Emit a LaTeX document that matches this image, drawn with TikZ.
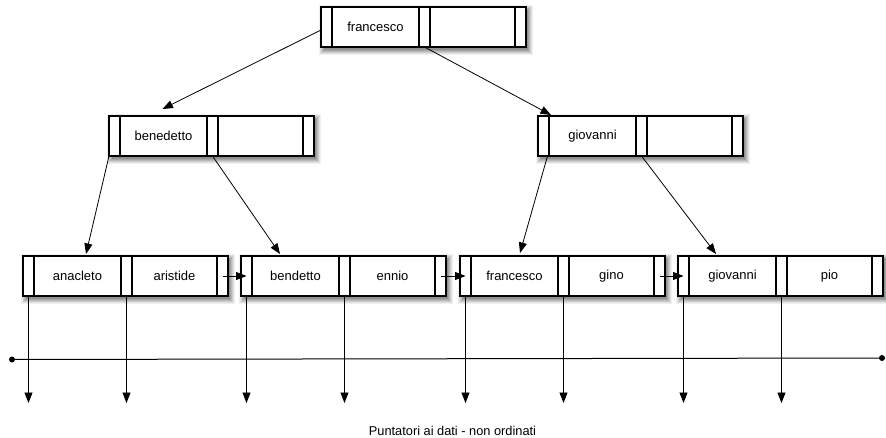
\documentclass[tikz,border=0pt]{standalone}
\usepackage{fontspec}
\setmainfont{Liberation Sans}
\usetikzlibrary{arrows.meta,calc}
\definecolor{shA}{RGB}{240,240,240}
\definecolor{shB}{RGB}{225,225,225}
\definecolor{shC}{RGB}{205,205,205}
\definecolor{shD}{RGB}{185,185,185}
\definecolor{shE}{RGB}{165,165,165}
\definecolor{shF}{RGB}{145,145,145}
\tikzset{
 cell/.style={draw, line width=1.1pt, minimum height=40pt, minimum width=#1, inner sep=0pt, outer sep=0pt, anchor=north west, font=\fontsize{13}{15}\selectfont},
 boxbg/.style={fill=white, minimum width=205pt, minimum height=40pt, inner sep=0pt, outer sep=0pt, anchor=north west},
 shadowbox/.style={draw=none, fill=#1, inner sep=0pt, outer sep=0pt, anchor=north west},
 link/.style={line width=0.8pt, -{Triangle[length=10.5pt,width=8pt]}},
 axis/.style={line width=1pt},
 caption/.style={font=\fontsize{12.8}{15}\selectfont, anchor=base, inner sep=0pt},
}
\newcommand{\mkbnode}[5]{%
 \node[shadowbox=shA, minimum width=214pt, minimum height=50pt] (#1-sa) at ({#2-2},{#3-2}) {};
 \node[shadowbox=shB, minimum width=212pt, minimum height=48pt] (#1-sb) at ({#2-1},{#3-1}) {};
 \node[shadowbox=shC, minimum width=210pt, minimum height=46pt] (#1-sc) at ({#2},{#3}) {};
 \node[shadowbox=shD, minimum width=208pt, minimum height=44pt] (#1-sd) at ({#2+1},{#3+1}) {};
 \node[shadowbox=shE, minimum width=206pt, minimum height=42pt] (#1-se) at ({#2+2},{#3+2}) {};
 \node[shadowbox=shF, minimum width=204pt, minimum height=40pt] (#1-sf) at ({#2+3},{#3+3}) {};
 \node[boxbg] (#1) at (#2,#3) {};
 \node[cell=11pt] (#1-p0) at (#2,#3) {};
 \node[cell=87pt] (#1-k1) at (#1-p0.north east) {#4};
 \node[cell=11pt] (#1-p1) at (#1-k1.north east) {};
 \node[cell=85pt] (#1-k2) at (#1-p1.north east) {#5};
 \node[cell=11pt] (#1-p2) at (#1-k2.north east) {};
}
\begin{document}
\begin{tikzpicture}[x=1pt,y=-1pt]
\useasboundingbox (0,0) rectangle (886,438);
% tree nodes
\mkbnode{top}{321}{7}{francesco}{}
\mkbnode{bene}{109}{116}{benedetto}{}
\mkbnode{giov}{538}{116}{giovanni}{}
% leaves
\mkbnode{La}{23}{256}{anacleto}{aristide}
\mkbnode{Lb}{241}{256}{bendetto}{ennio}
\mkbnode{Lc}{460}{256}{francesco}{gino}
\mkbnode{Ld}{678}{256}{giovanni}{pio}
% tree edges
\draw[link] ([yshift=-3pt]top-p0.west) -- ([xshift=-1pt,yshift=7pt]bene-k1.north);
\draw[link] (top-p1.south) -- ([xshift=2pt,yshift=1pt]giov-k1.north west);
\draw[link] (bene-p0.south west) -- ([xshift=8.5pt,yshift=2pt]La-k1.north);
\draw[link] (bene-p1.south) -- ([xshift=-15.5pt,yshift=2pt]Lb-k1.north);
\draw[link] ([xshift=4pt]giov-p0.south) -- ([xshift=5.5pt,yshift=3pt]Lc-k1.north);
\draw[link] (giov-p1.south) -- ([xshift=-16.5pt,yshift=2pt]Ld-k1.north);
% leaf chain
\draw[link] (La-p2.center) -- (Lb-p0.center);
\draw[link] (Lb-p2.center) -- (Lc-p0.center);
\draw[link] (Lc-p2.center) -- (Ld-p0.center);
% horizontal line
\coordinate (hl) at (12,359.5);
\coordinate (hr) at (882,358);
\draw[axis] (hl) -- (hr);
\fill (hl) circle (3pt);
\fill (hr) circle (3pt);
% data pointers
\coordinate (base) at (0,403);
\foreach \l in {La,Lb,Lc,Ld}{
  \draw[link] (\l-p0.south) -- (\l-p0.south |- base);
  \draw[link] (\l-p1.south) -- (\l-p1.south |- base);
}
\node[caption] (cap) at (452.5,435) {Puntatori ai dati - non ordinati};
\end{tikzpicture}
\end{document}
